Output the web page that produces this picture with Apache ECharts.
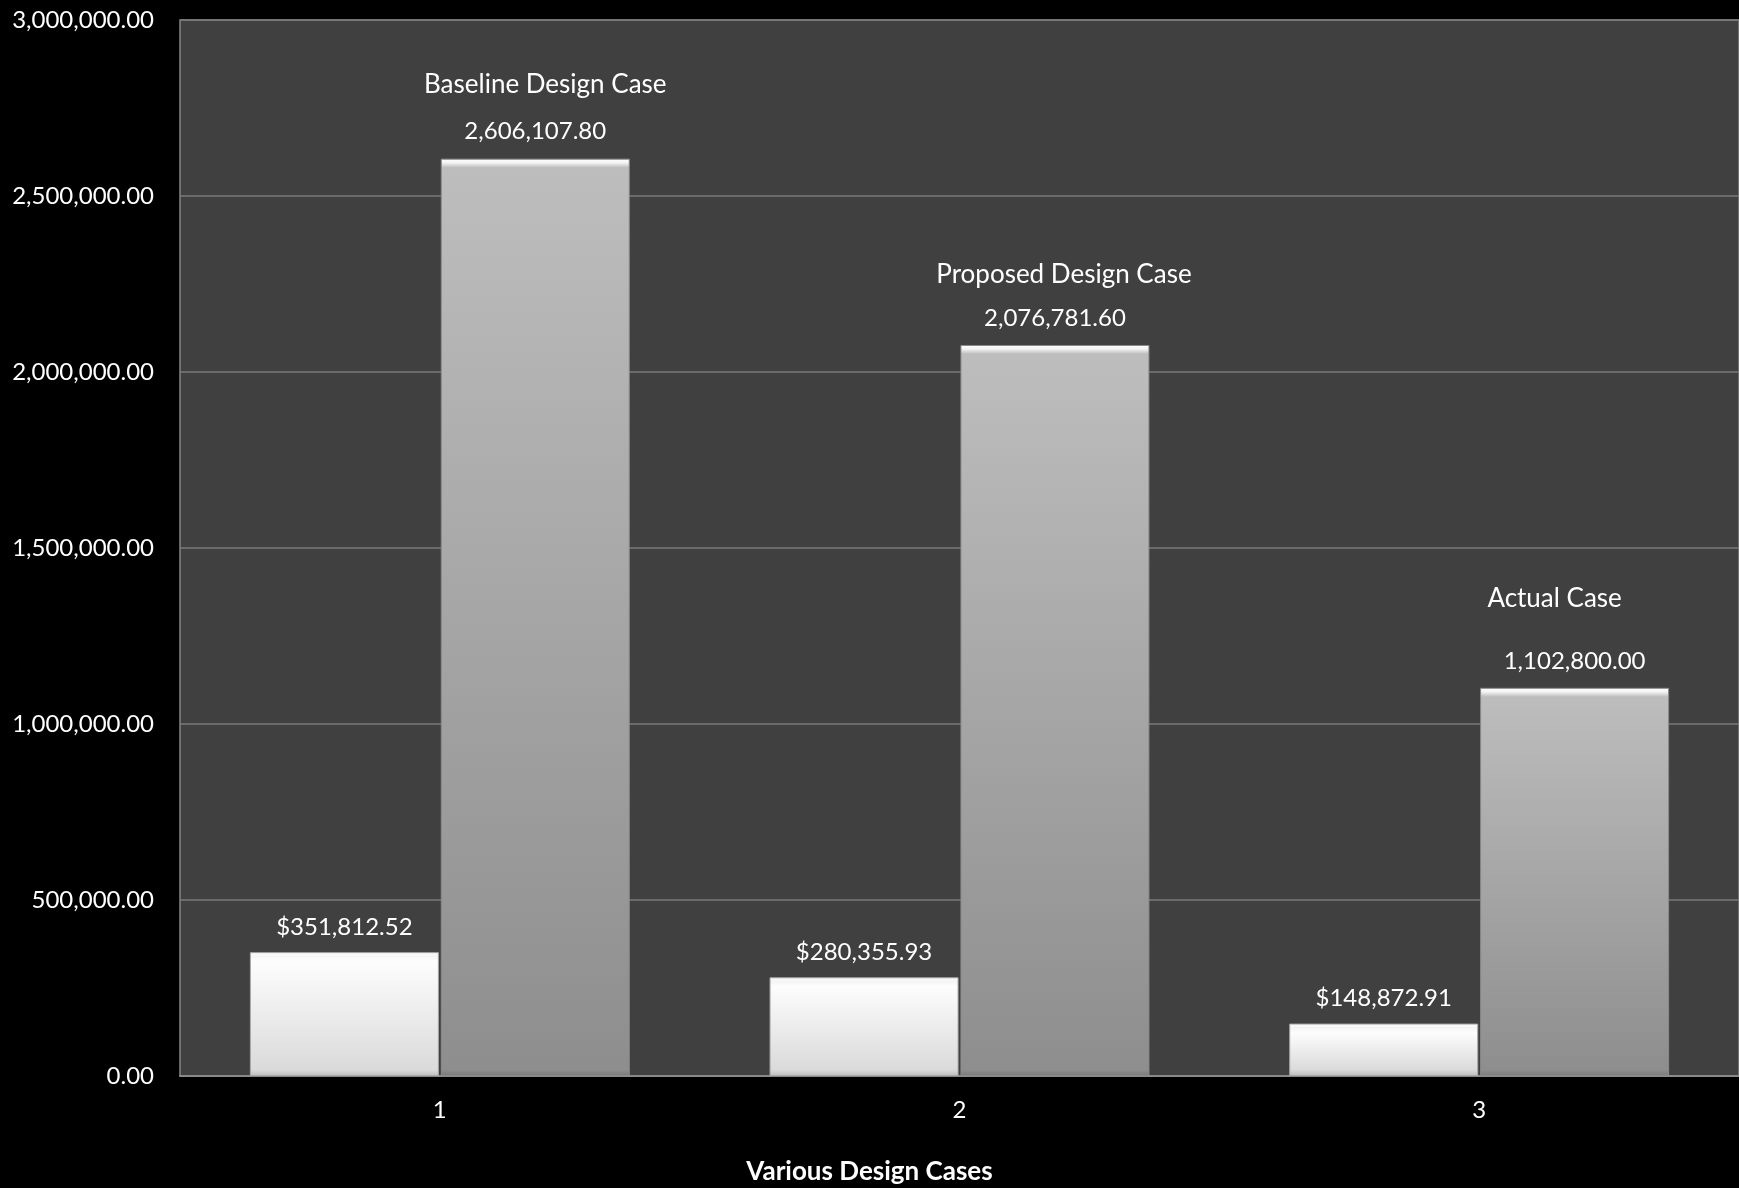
<!DOCTYPE html>
<html>
<head>
<meta charset="utf-8">
<style>
  html, body { margin: 0; padding: 0; background: #000; }
  #chart { width: 1739px; height: 1188px; }
</style>
<script src="https://cdn.jsdelivr.net/npm/echarts@6/dist/echarts.min.js"></script>
</head>
<body>
<div id="chart"></div>
<script>
// Energy cost comparison across design cases
const categories = ['1', '2', '3'];
const caseNames = ['Baseline Design Case', 'Proposed Design Case', 'Actual Case'];
const costValues = [351812.52, 280355.93, 148872.91];
const consumptionValues = [2606107.80, 2076781.60, 1102800.00];
const yTicks = { min: 0, max: 3000000, interval: 500000 };

const FONT = 'Lato';
const GRID = { left: 180, top: 20, right: 0, bottom: 112 };
const plotHeight = 1188 - GRID.top - GRID.bottom;

const fmt2 = v => v.toLocaleString('en-US', { minimumFractionDigits: 2, maximumFractionDigits: 2 });

// Bevelled bar fill: a bright band along the top edge, then a vertical gradient
function bevelFill(value, top, mid, bottom) {
  const h = value / yTicks.max * plotHeight;
  const band = Math.min(0.4, 9 / h);
  return {
    type: 'linear', x: 0, y: 0, x2: 0, y2: 1,
    colorStops: [
      { offset: 0, color: '#ffffff' },
      { offset: band * 0.45, color: '#f4f4f4' },
      { offset: band, color: top },
      { offset: Math.max(band, 1 - 6 / h), color: mid },
      { offset: 1, color: bottom }
    ]
  };
}

// name-line spacing and horizontal nudge for each case label
const nameStyles = {
  n0: { lineHeight: 64, padding: [0, 0, 0, 20] },
  n1: { lineHeight: 57, padding: [0, 0, 0, 18] },
  n2: { lineHeight: 95, padding: [0, 40, 0, 0] }
};
const rich = { v: { fontFamily: FONT, fontSize: 24, color: '#fff', lineHeight: 30 } };
Object.keys(nameStyles).forEach(k => {
  rich[k] = Object.assign({ fontFamily: FONT, fontSize: 26, color: '#fff' }, nameStyles[k]);
});

const chart = echarts.init(document.getElementById('chart'));
chart.setOption({
  backgroundColor: '#000000',
  animation: false,
  title: {
    text: 'Various Design Cases',
    left: 'center',
    top: 1154,
    textStyle: { color: '#fff', fontFamily: FONT, fontWeight: 'bold', fontSize: 26 }
  },
  grid: Object.assign({
    show: true, backgroundColor: '#404040', borderColor: '#858585', borderWidth: 1.5,
    containLabel: false
  }, GRID),
  xAxis: {
    type: 'category',
    data: categories,
    axisLine: { show: true, lineStyle: { color: '#8a8a8a', width: 2 } },
    axisTick: { show: false },
    axisLabel: { color: '#fff', fontFamily: FONT, fontSize: 24, margin: 22 }
  },
  yAxis: {
    type: 'value',
    min: yTicks.min, max: yTicks.max, interval: yTicks.interval,
    axisLine: { show: false },
    axisTick: { show: false },
    splitLine: { show: true, lineStyle: { color: '#7a7a7a', width: 1.5 } },
    axisLabel: { color: '#fff', fontFamily: FONT, fontSize: 24, margin: 26, formatter: v => fmt2(v) }
  },
  series: [
    {
      name: 'Cost',
      type: 'bar',
      barWidth: 189,
      barGap: '1%',
      data: costValues.map(v => ({
        value: v,
        itemStyle: { color: bevelFill(v, '#fdfdfd', '#dadada', '#bdbdbd') }
      })),
      itemStyle: { borderColor: '#a8a8a8', borderWidth: 1 },
      label: {
        show: true, position: 'top', distance: 13,
        color: '#fff', fontFamily: FONT, fontSize: 24,
        formatter: p => '$' + fmt2(p.value)
      }
    },
    {
      name: 'Consumption',
      type: 'bar',
      barWidth: 189,
      data: consumptionValues.map(v => ({
        value: v,
        itemStyle: { color: bevelFill(v, '#bdbdbd', '#8e8e8e', '#7a7a7a') }
      })),
      itemStyle: { borderColor: '#8a8a8a', borderWidth: 1 },
      label: {
        show: true, position: 'top', distance: 12,
        formatter: p => '{n' + p.dataIndex + '|' + caseNames[p.dataIndex] + '}\n{v|' + fmt2(p.value) + '}',
        rich: rich
      }
    }
  ]
});
</script>
</body>
</html>
